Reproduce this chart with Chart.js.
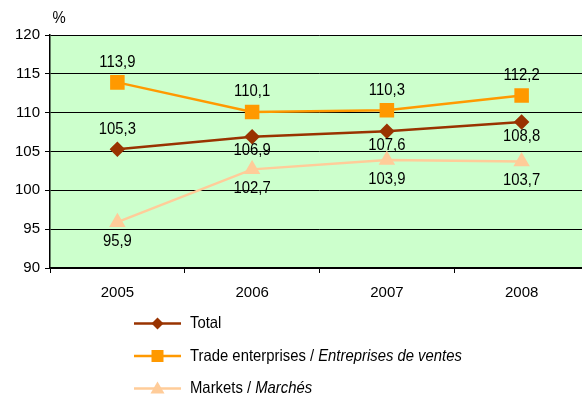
<!DOCTYPE html>
<html>
<head>
<meta charset="utf-8">
<script src="https://cdn.jsdelivr.net/npm/chart.js@4/dist/chart.umd.min.js"></script>
<style>
  html, body { margin: 0; padding: 0; background: #fff; overflow: hidden; }
  #wrap { position: relative; width: 600px; height: 401px; }
</style>
</head>
<body>
<div id="wrap"><canvas id="chart"></canvas></div>
<script>
const years = ["2005", "2006", "2007", "2008"];
const totalValues = [105.3, 106.9, 107.6, 108.8];
const tradeValues = [113.9, 110.1, 110.3, 112.2];
const marketValues = [95.9, 102.7, 103.9, 103.7];
// label above (-1) or below (+1) the point
const totalLabelSide = [-1, 1, 1, 1];
const tradeLabelSide = [-1, -1, -1, -1];
const marketLabelSide = [1, 1, 1, 1];

const legendItems = [
  { plain: "Total", italic: "", color: "#993300", style: "diamond" },
  { plain: "Trade enterprises / ", italic: "Entreprises de ventes", color: "#FF9900", style: "square" },
  { plain: "Markets / ", italic: "Marchés", color: "#FFCC99", style: "triangle" },
];

const FONT = "'Liberation Sans', Arial, sans-serif";
const SQUEEZE = 0.9; // the original text is a bit narrower than it is tall

function fmt(v) {
  return v.toFixed(1).replace(".", ",");
}

function squeezedText(ctx, text, x, y) {
  ctx.save();
  ctx.translate(x, y);
  ctx.scale(SQUEEZE, 1);
  ctx.fillText(text, 0, 0);
  ctx.restore();
  return ctx.measureText(text).width * SQUEEZE;
}

function marker(ctx, style, x, y, color) {
  ctx.fillStyle = color;
  ctx.beginPath();
  if (style === "diamond") {
    ctx.moveTo(x, y - 6); ctx.lineTo(x + 6, y); ctx.lineTo(x, y + 6); ctx.lineTo(x - 6, y);
  } else if (style === "square") {
    ctx.rect(x - 6, y - 6, 12, 12);
  } else {
    ctx.moveTo(x, y - 7); ctx.lineTo(x + 7, y + 5); ctx.lineTo(x - 7, y + 5);
  }
  ctx.closePath();
  ctx.fill();
}

const bgPlugin = {
  id: "plotBg",
  beforeDraw(chart) {
    const { ctx, chartArea: a } = chart;
    ctx.save();
    ctx.fillStyle = "#CCFFCC";
    ctx.fillRect(a.left, a.top, a.right - a.left, a.bottom - a.top);
    ctx.restore();
  },
};

const labelPlugin = {
  id: "valueLabels",
  afterDatasetsDraw(chart) {
    const { ctx } = chart;
    ctx.save();
    ctx.font = "16.5px " + FONT;
    ctx.fillStyle = "#000";
    ctx.textAlign = "center";
    ctx.textBaseline = "middle";
    chart.data.datasets.forEach((ds, di) => {
      const meta = chart.getDatasetMeta(di);
      meta.data.forEach((pt, i) => {
        const side = ds.labelSide[i];
        const gap = side > 0 ? ds.gapBelow : 20;
        squeezedText(ctx, fmt(ds.data[i]), pt.x, pt.y + side * gap);
      });
    });
    squeezedText(ctx, "%", 59, 18);
    ctx.restore();
  },
};

const legendPlugin = {
  id: "customLegend",
  afterDraw(chart) {
    const { ctx } = chart;
    ctx.save();
    ctx.textBaseline = "middle";
    ctx.textAlign = "left";
    legendItems.forEach((item, i) => {
      const y = 323.5 + i * 32.5;
      ctx.strokeStyle = item.color;
      ctx.lineWidth = 2.5;
      ctx.beginPath();
      ctx.moveTo(134, y);
      ctx.lineTo(181, y);
      ctx.stroke();
      marker(ctx, item.style, 157.5, y, item.color);
      ctx.fillStyle = "#000";
      ctx.font = "16.5px " + FONT;
      const w = squeezedText(ctx, item.plain, 190, y);
      ctx.font = "italic 16.5px " + FONT;
      squeezedText(ctx, item.italic, 190 + w, y);
    });
    ctx.restore();
  },
};

new Chart(document.getElementById("chart"), {
  type: "line",
  data: {
    labels: years,
    datasets: [
      {
        label: "Total",
        data: totalValues,
        labelSide: totalLabelSide,
        gapBelow: 14,
        borderColor: "#993300",
        backgroundColor: "#993300",
        borderWidth: 2.5,
        pointStyle: "rectRot",
        pointRadius: 6,
        pointHoverRadius: 6,
      },
      {
        label: "Trade enterprises / Entreprises de ventes",
        data: tradeValues,
        labelSide: tradeLabelSide,
        gapBelow: 19,
        borderColor: "#FF9900",
        backgroundColor: "#FF9900",
        borderWidth: 2.5,
        pointStyle: "rect",
        pointRadius: 8.5,
        pointHoverRadius: 8.5,
      },
      {
        label: "Markets / Marchés",
        data: marketValues,
        labelSide: marketLabelSide,
        gapBelow: 19,
        borderColor: "#FFCC99",
        backgroundColor: "#FFCC99",
        borderWidth: 2.5,
        pointStyle: "triangle",
        pointRadius: 7,
        pointHoverRadius: 7,
      },
    ],
  },
  options: {
    responsive: true,
    maintainAspectRatio: false,
    animation: false,
    devicePixelRatio: 1,
    layout: { padding: { left: 0, top: 35, right: 8, bottom: 93 } },
    plugins: {
      legend: { display: false },
      tooltip: { enabled: false },
    },
    scales: {
      x: {
        offset: true,
        afterFit(scale) { scale.height = 40; },
        grid: {
          offset: true,
          drawOnChartArea: false,
          color: "#000",
          tickLength: 5,
        },
        border: { color: "#000", width: 1.5 },
        ticks: { color: "#000", font: { family: FONT, size: 15 }, padding: 11 },
      },
      y: {
        min: 90,
        max: 120,
        afterFit(scale) { scale.width = 50; },
        grid: { color: "#000", lineWidth: 1, tickLength: 5 },
        border: { color: "#000", width: 1.5 },
        ticks: { stepSize: 5, color: "#000", font: { family: FONT, size: 15 }, padding: 5 },
      },
    },
  },
  plugins: [bgPlugin, labelPlugin, legendPlugin],
});
</script>
</body>
</html>
